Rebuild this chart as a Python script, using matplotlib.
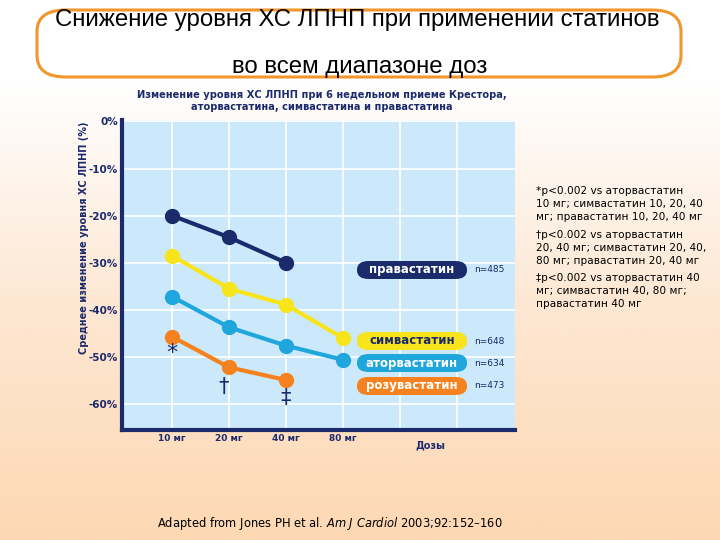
import numpy as np
import matplotlib
matplotlib.use("Agg")
import matplotlib.pyplot as plt
from matplotlib.patches import FancyBboxPatch
from matplotlib.colors import LinearSegmentedColormap

# ---- data ----
doses = ["10 мг", "20 мг", "40 мг", "80 мг"]
prava = [-20.0, -24.6, -30.0]
simva = [-28.5, -35.5, -38.9, -46.0]
atorva = [-37.2, -43.7, -47.6, -50.6]
rosuva = [-45.7, -52.2, -54.9]
yticks = [0, -10, -20, -30, -40, -50, -60]
ytick_labels = ["0%", "-10%", "-20%", "-30%", "-40%", "-50%", "-60%"]
legend_names = ["правастатин", "симвастатин", "аторвастатин", "розувастатин"]
legend_n = ["n=485", "n=648", "n=634", "n=473"]

NAVY = "#1b2a6b"
YELLOW = "#f7e41a"
CYAN = "#1fa6dc"
ORANGE = "#f5821f"

plt.rcParams["mathtext.fontset"] = "dejavusans"

fig = plt.figure(figsize=(7.2, 5.4), dpi=100)

# background gradient
bg = fig.add_axes([0, 0, 1, 1], zorder=-10)
cmap = LinearSegmentedColormap.from_list("bg", [(0, "#ffffff"), (0.15, "#ffffff"), (0.55, "#fde8d4"), (1, "#fdd8b3")])
grad = np.linspace(0, 1, 256).reshape(-1, 1)
bg.imshow(grad, aspect="auto", cmap=cmap, extent=[0, 1, 0, 1], origin="upper")
bg.set_xlim(0, 1); bg.set_ylim(0, 1)
bg.axis("off")

# title box
box = FancyBboxPatch((37 / 720, 1 - 77 / 540), (681 - 37) / 720, 67 / 540,
                     boxstyle="round,pad=0,rounding_size=0.04", transform=fig.transFigure,
                     facecolor="white", edgecolor="#f0962a", linewidth=2.2, zorder=1)
fig.patches.append(box)
fig.text(357 / 720, 1 - 20 / 540, "Снижение уровня ХС ЛПНП при применении статинов",
         ha="center", va="center", fontsize=17.3, family="Liberation Sans", color="black")
fig.text(360 / 720, 1 - 67 / 540, "во всем диапазоне доз",
         ha="center", va="center", fontsize=17.3, family="Liberation Sans", color="black")

# main axes
ax = fig.add_axes([122 / 720, 1 - 430 / 540, 393 / 720, 310 / 540])
ax.set_facecolor("#cbe9fa")
x = np.arange(1, 5)
ax.set_xlim(0.12, 7.02)
ax.set_ylim(-65.5, 0.3)
for yy in yticks:
    ax.axhline(yy, color="white", lw=1.2, zorder=1)
for xx in range(1, 7):
    ax.axvline(xx, color="white", lw=1.2, zorder=1)

for vals, col in [(prava, NAVY), (simva, YELLOW), (atorva, CYAN), (rosuva, ORANGE)]:
    ax.plot(x[:len(vals)], vals, color=col, lw=3, marker="o", markersize=10, zorder=3)

ax.set_yticks(yticks)
ax.set_yticklabels(ytick_labels, fontsize=7.5, fontweight="bold", color=NAVY)
ax.set_xticks(x)
ax.set_xticklabels(doses, fontsize=6.5, fontweight="bold", color=NAVY)
ax.tick_params(axis="both", length=0, pad=3)
for s in ["top", "right"]:
    ax.spines[s].set_visible(False)
for s in ["left", "bottom"]:
    ax.spines[s].set_color(NAVY)
    ax.spines[s].set_linewidth(3)

ax.text(5.53, -67.8, "Дозы", ha="center", va="top", fontsize=7, fontweight="bold", color=NAVY)
ax.set_ylabel("Среднее изменение уровня ХС ЛПНП (%)", fontsize=7, fontweight="bold", color=NAVY, labelpad=4)
ax.yaxis.set_label_coords(-0.085, 0.62)

# significance markers
ax.text(1.0, -49.2, "*", ha="center", va="center", fontsize=16, color=NAVY)
ax.text(1.9, -56.3, "†", ha="center", va="center", fontsize=15, color=NAVY)
ax.text(3.0, -58.6, "‡", ha="center", va="center", fontsize=15, color=NAVY)

# legend pills
pill_y = [270, 341, 363, 386]
pill_fc = [NAVY, YELLOW, CYAN, ORANGE]
pill_tc = ["white", NAVY, "white", "white"]
for name, n, py, fc, tc in zip(legend_names, legend_n, pill_y, pill_fc, pill_tc):
    w, h = 110 / 720, 18 / 540
    cx, cy = 412 / 720, 1 - py / 540
    p = FancyBboxPatch((cx - w / 2, cy - h / 2), w, h, boxstyle="round,pad=0,rounding_size=0.016",
                       transform=fig.transFigure, facecolor=fc, edgecolor="none", zorder=5)
    fig.patches.append(p)
    fig.text(cx, cy, name, ha="center", va="center", fontsize=8.5, fontweight="bold", color=tc, zorder=6)
    fig.text(474 / 720, cy, n, ha="left", va="center", fontsize=6.5, color=NAVY, zorder=6)

# subtitle
fig.text(322 / 720, 1 - 101 / 540, "Изменение уровня ХС ЛПНП при 6 недельном приеме Крестора,\nаторвастатина, симвастатина и правастатина",
         ha="center", va="center", fontsize=7.1, fontweight="bold", color=NAVY, linespacing=1.2)

# footnotes
notes = ["*p<0.002 vs аторвастатин\n10 мг; симвастатин 10, 20, 40\nмг; правастатин 10, 20, 40 мг",
         "†p<0.002 vs аторвастатин\n20, 40 мг; симвастатин 20, 40,\n80 мг; правастатин 20, 40 мг",
         "‡p<0.002 vs аторвастатин 40\nмг; симвастатин 40, 80 мг;\nправастатин 40 мг"]
for note, ny in zip(notes, [186, 230, 273]):
    fig.text(536 / 720, 1 - ny / 540, note, ha="left", va="top", fontsize=7.6, color="black", linespacing=1.38)

fig.text(330 / 720, 1 - 523 / 540, r"Adapted from Jones PH et al. $\it{Am\ J\ Cardiol}$ 2003;92:152–160",
         ha="center", va="center", fontsize=8.3, color="black")

fig.savefig("out.png", dpi=100)
